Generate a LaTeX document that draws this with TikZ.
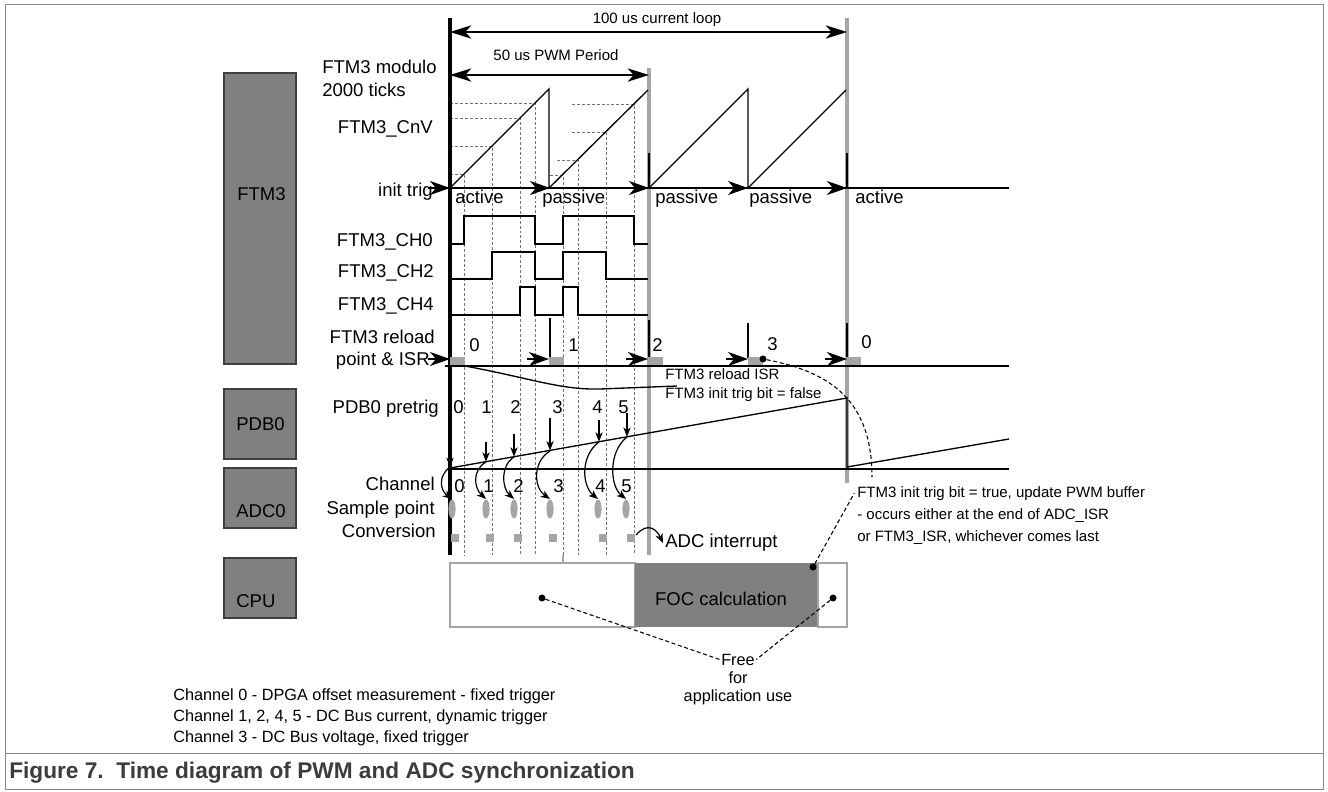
\documentclass[tikz,border=0pt]{standalone}
\usepackage{fontspec}
\setmainfont{Liberation Sans}
\usetikzlibrary{arrows.meta}
\definecolor{boxgray}{HTML}{808080}
\definecolor{boxedge}{HTML}{3F3F3F}
\definecolor{lgray}{HTML}{A5A5A5}
\definecolor{fgray}{HTML}{888888}
\definecolor{capgray}{HTML}{3C3C3C}
\begin{document}
\begin{tikzpicture}[x=0.75pt,y=-0.75pt,
  lbl/.style={font=\fontsize{13.9}{16}\selectfont, inner sep=0pt},
  sml/.style={font=\fontsize{11.25}{13}\selectfont, inner sep=0pt},
  btm/.style={font=\fontsize{12.2}{14}\selectfont, inner sep=0pt},
  capt/.style={font=\fontsize{17}{20}\selectfont\bfseries, text=capgray, inner sep=0pt},
  thinl/.style={line width=1pt},
  sig/.style={line width=2.2pt, line join=miter},
  gbar/.style={draw=lgray, line width=2.4pt},
  dsh/.style={draw=black!55, line width=0.6pt, dash pattern=on 2.2pt off 1.5pt},
  dshb/.style={draw=black, line width=0.8pt, dash pattern=on 3pt off 2pt},
  bighead/.style={-{Stealth[length=15pt,width=10.5pt,inset=4.5pt]}},
  dimarrow/.style={line width=1pt,{Stealth[length=16pt,width=10pt,inset=4.5pt]}-{Stealth[length=16pt,width=10pt,inset=4.5pt]}},
  smallhead/.style={line width=0.9pt,-{Stealth[length=7pt,width=5.5pt,inset=2pt]}},
  modbox/.style={draw=boxedge, fill=boxgray, line width=0.8pt},
  blob/.style={circle, fill=black, inner sep=0pt, minimum size=5.25pt},
]
\useasboundingbox (0,0) rectangle (1328,792);
% frame and caption
\draw[fgray, line width=0.75pt] (5,5) rectangle (1323,789);
\draw[fgray, line width=0.75pt] (5,753) -- (1323,753);
\node[capt, anchor=base west] (caption) at (9,778) {Figure 7.\ \ Time diagram of PWM and ADC synchronization};

% module boxes
\draw[modbox] (224,73) rectangle (296,364);
\node[lbl, anchor=base west] (mFTM) at (237,200) {FTM3};
\draw[modbox] (224,389) rectangle (296,459);
\node[lbl, anchor=base west] (mPDB) at (236,430) {PDB0};
\draw[modbox] (224,468) rectangle (296,528);
\node[lbl, anchor=base west] (mADC) at (236,517) {ADC0};
\draw[modbox] (224,558) rectangle (296,618);
\node[lbl, anchor=base west] (mCPU) at (236,607) {CPU};

% row labels
\node[lbl, anchor=base west] (lmod1) at (322,74) {FTM3 modulo};
\node[lbl, anchor=base west] (lmod2) at (322,97) {2000 ticks};
\node[lbl, anchor=base east] (lcnv) at (433,133) {FTM3\_CnV};
\node[lbl, anchor=base east] (linit) at (433,196) {init trig};
\node[lbl, anchor=base east] (lch0) at (433,246) {FTM3\_CH0};
\node[lbl, anchor=base east] (lch2) at (434,277) {FTM3\_CH2};
\node[lbl, anchor=base east] (lch4) at (434,310) {FTM3\_CH4};
\node[lbl, anchor=base east] (lrel1) at (435,343) {FTM3 reload};
\node[lbl, anchor=base east] (lrel2) at (430,365) {point \& ISR};
\node[lbl, anchor=base east] (lpdb) at (439,413) {PDB0 pretrig};
\node[lbl, anchor=base east] (lchn) at (435,490) {Channel};
\node[lbl, anchor=base east] (lsmp) at (435,514) {Sample point};
\node[lbl, anchor=base east] (lcnvs) at (436,537) {Conversion};

% compare-value dashed guides
\draw[dsh] (450,174) -- (464,174) -- (464,555);
\draw[dsh] (450,146) -- (492,146) -- (492,555);
\draw[dsh] (450,118) -- (520,118) -- (520,555);
\draw[dsh] (450,103) -- (535,103) -- (535,555);
\draw[dsh] (550,175) -- (563,175) -- (563,555);
\draw[dsh] (557,160) -- (578,160) -- (578,555);
\draw[dsh] (572,132) -- (606,132) -- (606,555);
\draw[dsh] (572,104) -- (634,104) -- (634,555);
\draw[lgray, line width=0.8pt] (563,555) -- (563,589);

% grey period markers
\draw[gbar] (649,68) -- (649,555);
\draw[gbar] (847,18) -- (847,483);

% sawtooth
\draw[thinl] (450,188) -- (549,89) -- (549,188) -- (648,90);
\draw[thinl] (649,188) -- (748,89) -- (748,188) -- (846,90);
\draw[thinl] (649,153) -- (649,188);
\draw[thinl] (847,153) -- (847,188);

% main time origin
\draw[line width=2.4pt] (450,18) -- (450,555);

% dimension arrows
\coordinate (L100) at (450,32); \coordinate (R100) at (847,32);
\draw[dimarrow] (L100) -- (R100);
\node[sml, anchor=base] (lab100) at (657,24) {100 us current loop};
\coordinate (L50) at (450,75); \coordinate (R50) at (649,75);
\draw[dimarrow] (L50) -- (R50);
\node[sml, anchor=base] (lab50) at (556,61) {50 us PWM Period};

% init trig line
\draw[thinl] (450,188) -- (1009,188);
\foreach \x in {450,550,649,748,847} \draw[thinl,bighead] ({\x-22},188) -- (\x,188);
\node[lbl, anchor=base west] (st1) at (455,203) {active};
\node[lbl, anchor=base west] (st2) at (542,203) {passive};
\node[lbl, anchor=base west] (st3) at (655,203) {passive};
\node[lbl, anchor=base west] (st4) at (749,203) {passive};
\node[lbl, anchor=base west] (st5) at (855,203) {active};

% PWM channels
\draw[sig] (450,244) -- (464,244) -- (464,216) -- (535,216) -- (535,244) -- (563,244) -- (563,216) -- (634,216) -- (634,244) -- (648,244);
\draw[sig] (450,279) -- (492,279) -- (492,252) -- (535,252) -- (535,279) -- (563,279) -- (563,252) -- (606,252) -- (606,279) -- (648,279);
\draw[sig] (450,315) -- (520,315) -- (520,287) -- (535,287) -- (535,315) -- (563,315) -- (563,287) -- (578,287) -- (578,315) -- (648,315);

% reload points
\draw[thinl] (550,318) -- (550,358);
\draw[thinl] (649,320) -- (649,358);
\draw[thinl] (748,323) -- (748,358);
\draw[thinl] (847,323) -- (847,358);
\foreach \x in {450,549,648,748,846} \fill[lgray] (\x,357) rectangle ({\x+15},365);
\draw[thinl] (445,366) -- (1009,366);
\foreach \x in {450,549,648,748,847} \draw[thinl,bighead] ({\x-22},359) -- (\x,359);
\node[lbl, anchor=base west] (r0) at (469,351) {0};
\node[lbl, anchor=base west] (r1) at (568,351) {1};
\node[lbl, anchor=base west] (r2) at (652,351) {2};
\node[lbl, anchor=base west] (r3) at (767,350) {3};
\node[lbl, anchor=base west] (r4) at (861,348) {0};
\coordinate (isrS) at (465,366);
\coordinate (isrE) at (677,386);
\draw[thinl] (isrS) .. controls (530,378) and (560,390) .. (600,389) -- (isrE);
\node[sml, anchor=base west] (isr1) at (665,379) {FTM3 reload ISR};
\node[sml, anchor=base west] (isr2) at (665,398) {FTM3 init trig bit = false};

% PDB0
\draw[thinl] (448,469) -- (1009,469);
\draw[thinl] (450,468) -- (847,398) -- (847,467) -- (1009,439);
\node[lbl, anchor=base west] (p0) at (453,413) {0};
\node[lbl, anchor=base west] (p1) at (481,413) {1};
\node[lbl, anchor=base west] (p2) at (510,413) {2};
\node[lbl, anchor=base west] (p3) at (552,413) {3};
\node[lbl, anchor=base west] (p4) at (592,413) {4};
\node[lbl, anchor=base west] (p5) at (618,413) {5};
\draw[smallhead] (450,458) -- (450,467);
\draw[smallhead] (486,442) -- (486,461.7);
\draw[smallhead] (514,434) -- (514,456.7);
\draw[smallhead] (550,418) -- (550,450.4);
\draw[smallhead] (599,420) -- (599,441.7);
\draw[smallhead] (627,413) -- (627,436.8);

% trigger to sample arrows
\draw[smallhead] (450,467) .. controls (438,476) and (440,490) .. (452,499);
\draw[smallhead] (486,462) .. controls (472,470) and (474,488) .. (486,499);
\draw[smallhead] (514,457) .. controls (500,466) and (502,488) .. (514,499);
\draw[smallhead] (550,451) .. controls (532,462) and (534,488) .. (550,499);
\draw[smallhead] (599,442) .. controls (580,456) and (582,486) .. (598,499);
\draw[smallhead] (627,437) .. controls (608,452) and (610,486) .. (626,499);
\node[lbl, anchor=base west] (c0) at (454,492) {0};
\node[lbl, anchor=base west] (c1) at (483,492) {1};
\node[lbl, anchor=base west] (c2) at (513,492) {2};
\node[lbl, anchor=base west] (c3) at (553,492) {3};
\node[lbl, anchor=base west] (c4) at (595,492) {4};
\node[lbl, anchor=base west] (c5) at (621,492) {5};
\foreach \x in {452,486,514,550,598,626} \fill[lgray] (\x,509) ellipse [x radius=3.6, y radius=9.5];
\foreach \x in {451,486,514,549,599,627} \fill[lgray] (\x,534) rectangle ({\x+8},542);
\coordinate (adcS) at (636,535);
\node[lbl, anchor=base west] (adcint) at (665,547) {ADC interrupt};
\draw[smallhead] (adcS) .. controls (648,521) and (657,530) .. (663,543);

% CPU load
\draw[lgray, line width=1.5pt, fill=white] (450,563) rectangle (635,627);
\fill[boxgray] (635,563) rectangle (818,627);
\draw[lgray, line width=1.5pt] (818,563) rectangle (847,627);
\node[lbl, anchor=base] (foc) at (721,605) {FOC calculation};
\node[blob] (dA) at (542,598) {};
\node[blob] (dB) at (813,567) {};
\node[blob] (dC) at (833,598) {};
\node[blob] (d3) at (763,359) {};

% notes
\node[btm, anchor=base] (free1) at (738,665) {Free};
\node[btm, anchor=base] (free2) at (738,683) {for};
\node[btm, anchor=base] (free3) at (738,701) {application use};
\draw[dshb] (dA) -- ([xshift=-1pt]free1.west);
\draw[dshb] (dC) -- ([xshift=1pt]free1.east);
\node[sml, anchor=base west] (tr1) at (857,497) {FTM3 init trig bit = true, update PWM buffer};
\node[sml, anchor=base west] (tr2) at (857,519) {- occurs either at the end of ADC\_ISR};
\node[sml, anchor=base west] (tr3) at (857,541) {or FTM3\_ISR, whichever comes last};
\draw[dshb] (dB) -- ([xshift=-2pt]tr1.west);
\coordinate (d3e) at (872,477);
\draw[dshb] (d3) .. controls (830,372) and (872,400) .. (d3e);

\node[btm, anchor=base west] (n1) at (173,700) {Channel 0 - DPGA offset measurement - fixed trigger};
\node[btm, anchor=base west] (n2) at (173,721) {Channel 1, 2, 4, 5 - DC Bus current, dynamic trigger};
\node[btm, anchor=base west] (n3) at (173,742) {Channel 3 - DC Bus voltage, fixed trigger};
\end{tikzpicture}
\end{document}
